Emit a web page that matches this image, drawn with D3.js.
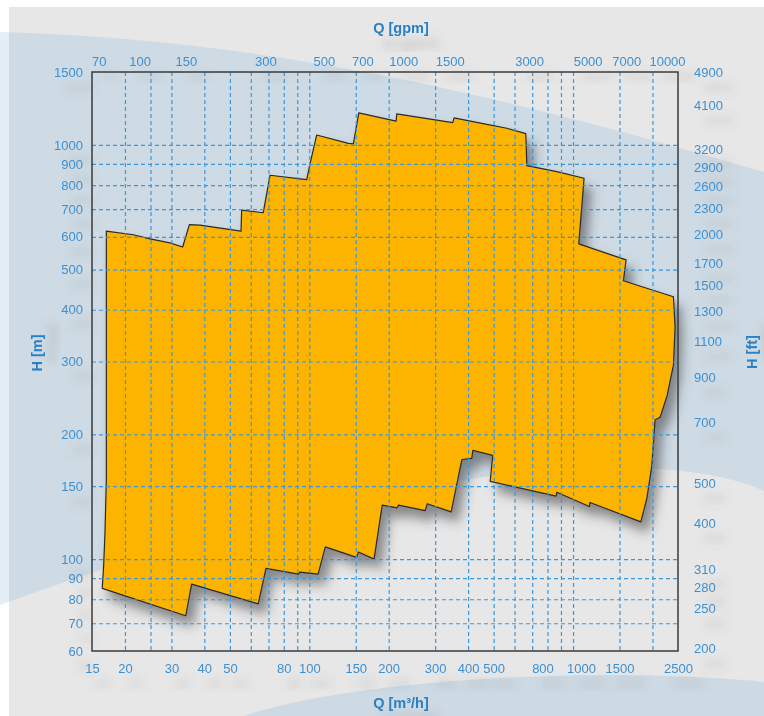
<!DOCTYPE html>
<html>
<head>
<meta charset="utf-8">
<script src="https://cdn.jsdelivr.net/npm/d3@7"></script>
<style>
  body { margin: 0; background: #fff; }
  svg { display: block; font-family: 'Liberation Sans', Arial, sans-serif; }
</style>
</head>
<body>
<svg id="chart"></svg>
<script>
// tick values
const qTicks = [15, 20, 30, 40, 50, 80, 100, 150, 200, 300, 400, 500, 800, 1000, 1500, 2500]
const qGrid = [20, 25, 30, 40, 50, 60, 70, 80, 90, 100, 150, 200, 300, 400, 500, 600, 700, 800, 900, 1000, 1500, 2000]
const gpmTicks = [70, 100, 150, 300, 500, 700, 1000, 1500, 3000, 5000, 7000, 10000]
const hTicksM = [60, 70, 80, 90, 100, 150, 200, 300, 400, 500, 600, 700, 800, 900, 1000, 1500]
const hGridM = [70, 80, 90, 100, 150, 200, 300, 400, 500, 600, 700, 800, 900, 1000]
const hTicksFt = [200, 250, 280, 310, 400, 500, 700, 900, 1100, 1300, 1500, 1700, 2000, 2300, 2600, 2900, 3200, 4100, 4900]

// performance envelope, clockwise from top-left (Q m3/h, H m)
const envQ = [17, 21.5, 24.9, 29.6, 33.1, 35.1, 38.5, 55.1, 55.4, 66.9, 71, 97.8, 100.6, 106.7, 140.7, 146.9, 154, 213.3, 214.6, 349.9, 353.9, 456, 561, 662, 668, 868, 1101, 1051, 1589, 1552, 2402, 2437, 2402, 2273, 2139, 2047, 1989, 1904, 1807, 1160, 1153, 868, 862, 485, 496, 417, 413, 379, 345, 280, 275, 218, 215, 189, 176, 153.5, 151, 115, 108, 92, 91, 68.5, 64, 35.8, 34, 16.4, 16.6, 16.8, 17]
const envH = [619, 607, 593, 580, 567, 642, 640, 619, 696, 686, 845, 825, 900, 1057, 1009, 1006, 1195, 1141, 1188, 1132, 1162, 1126, 1097, 1065, 891, 862, 831, 577, 528, 470, 430, 363, 294, 248, 220, 217, 168, 140, 123, 137, 134, 145, 142, 154, 178, 183, 175, 174, 130, 136, 131, 135, 133, 135, 100, 104, 101, 107, 92, 93, 92, 95, 78, 87, 73, 85, 96, 116, 156]

const M3H_TO_GPM = 4.4029
const M_TO_FT = 3.28084

const width = 764
const height = 716
const plot = { left: 92, right: 678, top: 72, bottom: 651 }

const labelColor = '#3d8fd2'
const titleColor = '#2c80c4'
const gridColor = '#3a98dc'

const x = d3.scaleLog().domain([15, 2500]).range([plot.left, plot.right])
const xGpm = d3.scaleLog().domain([15 * M3H_TO_GPM, 2500 * M3H_TO_GPM]).range([plot.left, plot.right])
const y = d3.scaleLog().domain([60, 1500]).range([plot.bottom, plot.top])
const yFt = d3.scaleLog().domain([60 * M_TO_FT, 1500 * M_TO_FT]).range([plot.bottom, plot.top])

const svg = d3.select('#chart').attr('width', width).attr('height', height)
const defs = svg.append('defs')

defs.append('filter')
  .attr('id', 'envShadow')
  .attr('x', '-10%').attr('y', '-10%').attr('width', '130%').attr('height', '130%')
  .append('feDropShadow')
  .attr('dx', 7).attr('dy', 10).attr('stdDeviation', 6)
  .attr('flood-color', '#3a3a3a').attr('flood-opacity', 0.55)

defs.append('filter')
  .attr('id', 'txtShadow')
  .attr('x', '-50%').attr('y', '-50%').attr('width', '250%').attr('height', '250%')
  .append('feDropShadow')
  .attr('dx', 10).attr('dy', 15).attr('stdDeviation', 4)
  .attr('flood-color', '#6a6a6a').attr('flood-opacity', 0.3)

defs.append('clipPath').attr('id', 'panel')
  .append('rect').attr('x', 9).attr('y', 7).attr('width', width - 9).attr('height', height - 7)

// background
const swoosh = 'M0,32 C300,40 550,110 764,172 L764,491 C690,455 450,440 0,605 Z'
svg.append('rect').attr('width', width).attr('height', height).attr('fill', '#fff')
svg.append('path').attr('d', swoosh).attr('fill', '#e3eef7')
svg.append('rect')
  .attr('x', 9).attr('y', 7).attr('width', width - 9).attr('height', height - 7)
  .attr('fill', '#e7e7e7')
const bg = svg.append('g').attr('clip-path', 'url(#panel)')
bg.append('path').attr('d', swoosh).attr('fill', '#cfdbe4')
bg.append('path').attr('d', 'M244,716 C350,680 600,665 764,682 L764,716 Z').attr('fill', '#cdd9e3')

// envelope
const env = d3.zip(envQ, envH)
const line = d3.line().x((d) => x(d[0])).y((d) => y(d[1])).curve(d3.curveLinearClosed)

svg.append('path')
  .datum(env)
  .attr('d', line)
  .attr('fill', '#fcb400')
  .attr('stroke', '#2a2a2a')
  .attr('stroke-width', 1.2)
  .attr('stroke-linejoin', 'round')
  .attr('filter', 'url(#envShadow)')

// grid
const styleGrid = (g) => {
  g.select('.domain').remove()
  g.selectAll('.tick line')
    .attr('stroke', gridColor)
    .attr('stroke-width', 1.2)
    .attr('stroke-dasharray', '4,3')
}

svg.append('g')
  .attr('transform', `translate(0, ${plot.top})`)
  .call(d3.axisBottom(x).tickValues(qGrid).tickSize(plot.bottom - plot.top).tickFormat(''))
  .call(styleGrid)

svg.append('g')
  .attr('transform', `translate(${plot.left}, 0)`)
  .call(d3.axisRight(y).tickValues(hGridM).tickSize(plot.right - plot.left).tickFormat(''))
  .call(styleGrid)

// plot frame
svg.append('rect')
  .attr('x', plot.left).attr('y', plot.top)
  .attr('width', plot.right - plot.left).attr('height', plot.bottom - plot.top)
  .attr('fill', 'none')
  .attr('stroke', '#3a3a3a')
  .attr('stroke-width', 1.5)

// axes labels
const styleAxis = (g) => {
  g.select('.domain').remove()
  g.selectAll('.tick line').remove()
  g.selectAll('text')
    .attr('fill', labelColor)
    .style('font-size', '13px')
    .style('font-family', "'Liberation Sans', Arial, sans-serif")
  g.attr('filter', 'url(#txtShadow)')
}

svg.append('g')
  .attr('transform', `translate(${plot.left}, 0)`)
  .call(d3.axisLeft(y).tickValues(hTicksM).tickSize(0).tickPadding(9).tickFormat((d) => d))
  .call(styleAxis)

svg.append('g')
  .attr('transform', `translate(${plot.right}, 0)`)
  .call(d3.axisRight(yFt).tickValues(hTicksFt).tickSize(0).tickPadding(16).tickFormat((d) => d))
  .call(styleAxis)

const bottomAxis = svg.append('g')
  .attr('transform', `translate(0, ${plot.bottom})`)
  .call(d3.axisBottom(x).tickValues(qTicks).tickSize(0).tickPadding(13).tickFormat((d) => d))
  .call(styleAxis)

// the printed labels sit a little off their lines here, keep them apart
bottomAxis.selectAll('.tick text')
  .attr('dx', (d) => (d === 800 ? -5 : d === 1000 ? 8 : 0))

svg.append('g')
  .attr('transform', `translate(0, ${plot.top})`)
  .call(d3.axisTop(xGpm).tickValues(gpmTicks).tickSize(0).tickPadding(6).tickFormat((d) => d))
  .call(styleAxis)

// titles
const title = (txt, tx, ty, rot) => {
  svg.append('text')
    .attr('transform', `translate(${tx}, ${ty}) rotate(${rot})`)
    .attr('text-anchor', 'middle')
    .attr('fill', titleColor)
    .attr('font-weight', 'bold')
    .attr('font-size', 14.5)
    .attr('filter', 'url(#txtShadow)')
    .text(txt)
}

title('Q [gpm]', 401, 33, 0)
title('Q [m³/h]', 401, 708, 0)
title('H [m]', 42, 353, -90)
title('H [ft]', 757, 352, -90)
</script>
</body>
</html>
